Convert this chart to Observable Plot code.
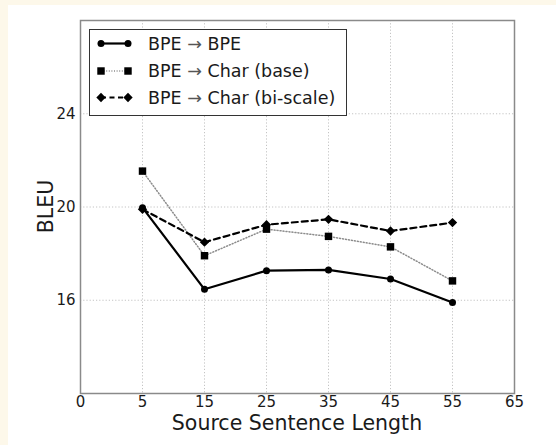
<!DOCTYPE html>
<html>
<head>
<meta charset="utf-8">
<script src="https://cdn.jsdelivr.net/npm/d3@7"></script>
<script src="https://cdn.jsdelivr.net/npm/@observablehq/plot@0.6"></script>
<style>
  html, body { margin: 0; padding: 0; background: #fdf8ea; }
  #chart svg { display: block; }
</style>
</head>
<body>
<div id="chart"></div>
<script>
// ---- data ----
const xTickLabels = ["0", "5", "15", "25", "35", "45", "55", "65"];
const lengths = ["5", "15", "25", "35", "45", "55"];
const bpeBpe = [19.97, 16.47, 17.27, 17.30, 16.91, 15.90];
const charBase = [21.54, 17.91, 19.05, 18.74, 18.29, 16.83];
const charBiScale = [19.90, 18.49, 19.24, 19.47, 18.97, 19.33];
const yTicks = [16, 20, 24];
const seriesNames = ["BPE", "Char (base)", "Char (bi-scale)"];
const xTitle = "Source Sentence Length";
const yTitle = "BLEU";

const W = 556, H = 445;
const mL = 80, mR = 42, mT = 20, mB = 52;

const rows = (vals) => lengths.map((l, i) => ({len: l, v: vals[i]}));
const dBpe = rows(bpeBpe), dBase = rows(charBase), dBi = rows(charBiScale);

const svg = Plot.plot({
  width: W, height: H,
  marginLeft: mL, marginRight: mR, marginTop: mT, marginBottom: mB,
  style: {
    fontFamily: "DejaVu Sans, sans-serif",
    color: "#1a1a1a",
    background: "linear-gradient(to right, #fdf8ea 8px, transparent 8px), linear-gradient(to bottom, #fdf8ea 5px, #ffffff 5px)"
  },
  x: {type: "point", domain: xTickLabels, padding: 0, tickSize: 0, tickPadding: 3, label: null},
  y: {domain: [12, 28], ticks: yTicks, tickSize: 0, tickPadding: 5, label: null},
  marks: [
    Plot.ruleX(xTickLabels, {stroke: "#b5b5b5", strokeWidth: 0.8, strokeDasharray: "1.2,2"}),
    Plot.ruleY(yTicks, {stroke: "#b5b5b5", strokeWidth: 0.8, strokeDasharray: "1.2,2"}),
    Plot.frame({stroke: "#8a8a8a", strokeWidth: 1.5}),
    Plot.line(dBpe, {x: "len", y: "v", stroke: "#000", strokeWidth: 2.2}),
    Plot.line(dBase, {x: "len", y: "v", stroke: "#8c8c8c", strokeWidth: 1.5, strokeDasharray: "1,2"}),
    Plot.line(dBi, {x: "len", y: "v", stroke: "#000", strokeWidth: 2.2, strokeDasharray: "6,4"}),
    Plot.dot(dBi, {x: "len", y: "v", symbol: "diamond2", r: 4.2, fill: "#000", stroke: "none"}),
    Plot.dot(dBase, {x: "len", y: "v", symbol: "square", r: 4.2, fill: "#000", stroke: "none"}),
    Plot.dot(dBpe, {x: "len", y: "v", symbol: "circle", r: 3.5, fill: "#000", stroke: "none"})
  ]
});

const s = d3.select(svg);
// tick label size
s.selectAll("text").style("font-size", "15px").attr("fill", "#1a1a1a");

// axis titles
s.append("text")
  .attr("x", mL + (W - mL - mR) / 2).attr("y", 430)
  .attr("text-anchor", "middle")
  .style("font-size", "20.5px").attr("fill", "#1a1a1a")
  .text(xTitle);
s.append("text")
  .attr("transform", `translate(53, ${mT + (H - mT - mB) / 2}) rotate(-90)`)
  .attr("text-anchor", "middle")
  .style("font-size", "20.5px").attr("fill", "#1a1a1a")
  .text(yTitle);

// legend
const lg = s.append("g");
lg.append("rect").attr("x", 89.5).attr("y", 29.5).attr("width", 257).attr("height", 86)
  .attr("fill", "#fff").attr("stroke", "#333").attr("stroke-width", 1);
const legendStyles = [
  {stroke: "#000", width: 2.2, dash: null, sym: d3.symbolCircle, r: 3.5},
  {stroke: "#8c8c8c", width: 1.5, dash: "1,1.6", sym: d3.symbolSquare, r: 4.2},
  {stroke: "#000", width: 2.2, dash: "5,3.5", sym: d3.symbolDiamond2, r: 4.2}
];
const rowY = [43.5, 71, 97.5];
seriesNames.forEach((name, i) => {
  const st = legendStyles[i], y = rowY[i];
  lg.append("line").attr("x1", 101).attr("x2", 128).attr("y1", y).attr("y2", y)
    .attr("stroke", st.stroke).attr("stroke-width", st.width)
    .attr("stroke-dasharray", st.dash);
  const path = d3.symbol(st.sym, Math.PI * st.r * st.r)();
  [101, 128].forEach(x => lg.append("path").attr("d", path)
    .attr("transform", `translate(${x},${y})`).attr("fill", "#000"));
  const t = lg.append("text").attr("x", 148).attr("y", y + 6.3)
    .attr("text-anchor", "start")
    .style("font-size", "17.5px").attr("fill", "#1a1a1a");
  t.append("tspan").text("BPE ");
  t.append("tspan").attr("fill", "#555").text("→");
  t.append("tspan").text(" " + name);
});

document.getElementById("chart").appendChild(svg);
</script>
</body>
</html>
